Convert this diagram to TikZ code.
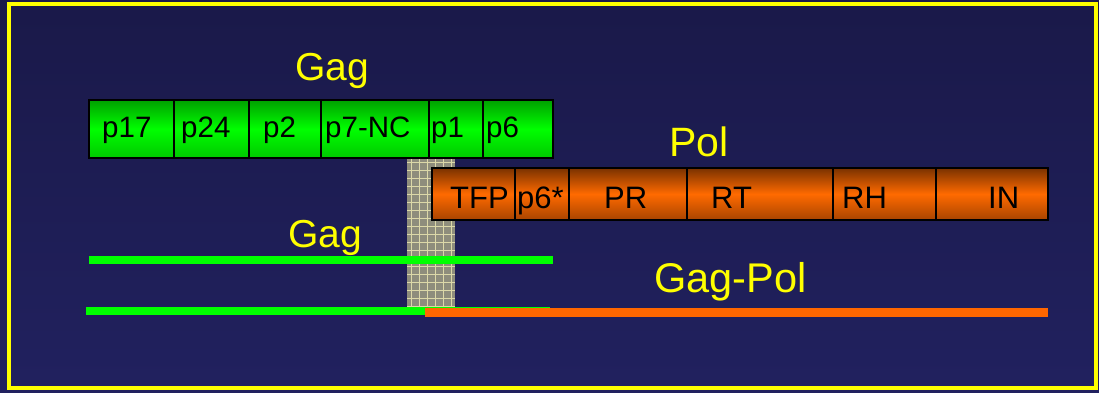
\documentclass[tikz,border=0pt]{standalone}
\usepackage{fontspec}
\setmainfont{Liberation Sans}
\begin{document}
\begin{tikzpicture}[x=1pt,y=-1pt,
  gseg/.style={draw=black,line width=1.6pt,top color=gTop,bottom color=gLow,middle color=green,
    minimum height=58pt,anchor=north west,inner sep=0pt,outer sep=0pt},
  oseg/.style={draw=black,line width=1.6pt,top color=polDark,bottom color=polLow,middle color=polMid,
    minimum height=52pt,anchor=north west,inner sep=0pt,outer sep=0pt},
  glab/.style={anchor=base west,inner sep=0pt,font=\fontsize{29.5}{32}\selectfont,text=black},
  olab/.style={anchor=base west,inner sep=0pt,font=\fontsize{31}{34}\selectfont,text=black},
  title/.style={anchor=base west,inner sep=0pt,text=titleYellow},
  bar/.style={line width=8pt}
]
\definecolor{bgTop}{HTML}{1A1949}
\definecolor{bgBot}{HTML}{21215F}
\definecolor{titleYellow}{HTML}{FFFF00}
\definecolor{gTop}{HTML}{00A000}
\definecolor{gLow}{HTML}{00C800}
\definecolor{polDark}{HTML}{7A3200}
\definecolor{polMid}{HTML}{FF6A00}
\definecolor{polLow}{HTML}{A84400}
\definecolor{hatchFill}{HTML}{8E8D7C}
\definecolor{hatchLine}{HTML}{DCD8A8}
\definecolor{barGreen}{HTML}{00FF00}
\definecolor{barOrange}{HTML}{FF6600}

% background and frame
\shade[top color=bgTop,bottom color=bgBot] (0,0) rectangle (1099,393);
\useasboundingbox (0,0) rectangle (1099,393);
\draw[titleYellow,line width=3.2pt] (9,4) rectangle (1096,388);

% hatched column
\fill[hatchFill] (407,158) rectangle (455,307);
\begin{scope}
\clip (407,158) rectangle (455,307);
\foreach \xx in {411,419,...,455} \draw[hatchLine,line width=0.7pt] (\xx,158) -- (\xx,307);
\foreach \yy in {162,170,...,307} \draw[hatchLine,line width=0.7pt] (407,\yy) -- (455,\yy);
\end{scope}

% Gag polyprotein
\node[gseg,minimum width=85pt] (p17) at (89,100) {};
\node[gseg,minimum width=75pt] (p24) at (174,100) {};
\node[gseg,minimum width=72pt] (p2) at (249,100) {};
\node[gseg,minimum width=108pt] (p7) at (321,100) {};
\node[gseg,minimum width=54pt] (p1) at (429,100) {};
\node[gseg,minimum width=70pt] (p6) at (483,100) {};
\node[glab] (lp17) at (102,137) {p17};
\node[glab] (lp24) at (181,137) {p24};
\node[glab] (lp2) at (263,137) {p2};
\node[glab] (lp7) at (325,137) {p7-NC};
\node[glab] (lp1) at (431,137) {p1};
\node[glab] (lp6) at (486,137) {p6};

% Pol polyprotein
\node[oseg,minimum width=83pt] (tfp) at (432,168) {};
\node[oseg,minimum width=54pt] (p6s) at (515,168) {};
\node[oseg,minimum width=118pt] (pr) at (569,168) {};
\node[oseg,minimum width=146pt] (rt) at (687,168) {};
\node[oseg,minimum width=103pt] (rh) at (833,168) {};
\node[oseg,minimum width=112pt] (in) at (936,168) {};
\node[olab] (ltfp) at (450,208) {TFP};
\node[olab] (lp6s) at (517,208) {p6*};
\node[olab] (lpr) at (604,208) {PR};
\node[olab] (lrt) at (711,208) {RT};
\node[olab] (lrh) at (842,208) {RH};
\node[olab] (lin) at (988,208) {IN};

% bars
\draw[barGreen,bar] (89,260) -- (553,260);
\draw[barGreen,line width=1.2pt] (425,307.5) -- (550,307.5);
\draw[barOrange,line width=9pt] (425,312.5) -- (1048,312.5);
\draw[barGreen,bar] (86,311) -- (425,311);

% titles
\node[title,font=\fontsize{39}{42}\selectfont] (tgag) at (295,81) {Gag};
\node[title,font=\fontsize{41}{44}\selectfont] (tpol) at (669,156) {Pol};
\node[title,font=\fontsize{39}{42}\selectfont] (tgag2) at (288,247) {Gag};
\node[title,font=\fontsize{41.5}{44}\selectfont] (tgagpol) at (654,292) {Gag-Pol};
\end{tikzpicture}
\end{document}
